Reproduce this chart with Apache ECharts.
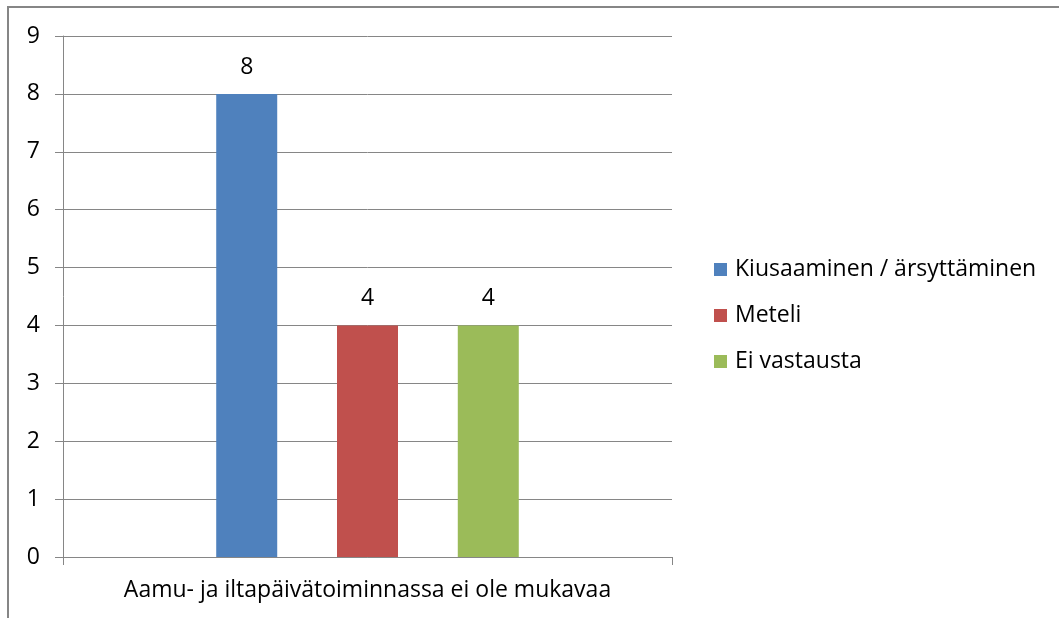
<!DOCTYPE html>
<html>
<head>
<meta charset="utf-8">
<script src="https://cdn.jsdelivr.net/npm/echarts@6/dist/echarts.min.js"></script>
<style>
  html, body { margin: 0; padding: 0; background: #fff; }
  #main { width: 1059px; height: 618px; }
</style>
</head>
<body>
<div id="main"></div>
<script>
const categories = ['Aamu- ja iltapäivätoiminnassa ei ole mukavaa']
const seriesNames = ['Kiusaaminen / ärsyttäminen', 'Meteli', 'Ei vastausta']
const seriesValues = [[8], [4], [4]]
const colors = ['#4F81BD', '#C0504D', '#9BBB59']
const yTicks = [0, 1, 2, 3, 4, 5, 6, 7, 8, 9]

const font = '"Open Sans", sans-serif'
const grey = '#868686'
const fs = 23

const chart = echarts.init(document.getElementById('main'))

const option = {
    animation: false,
    textStyle: { fontFamily: font },
    grid: { left: 63, right: 387, top: 36, bottom: 61 },
    legend: {
        orient: 'vertical',
        left: 709,
        top: 253,
        itemWidth: 13,
        itemHeight: 13,
        itemGap: 23,
        icon: 'rect',
        textStyle: { fontFamily: font, fontSize: fs, color: '#000', padding: [0, 0, 0, 3] },
        data: seriesNames
    },
    xAxis: {
        type: 'category',
        data: categories,
        axisLine: { lineStyle: { color: grey, width: 1 } },
        axisTick: { show: true, length: 8, lineStyle: { color: grey } },
        axisLabel: { fontFamily: font, fontSize: fs, color: '#000', margin: 22 }
    },
    yAxis: {
        type: 'value',
        min: yTicks[0],
        max: yTicks[yTicks.length - 1],
        interval: 1,
        axisLine: { show: true, lineStyle: { color: grey, width: 1 } },
        axisTick: { show: true, length: 8, lineStyle: { color: grey } },
        splitLine: { lineStyle: { color: grey, width: 1 } },
        axisLabel: { fontFamily: font, fontSize: fs, color: '#000', margin: 23 }
    },
    series: seriesNames.map((name, i) => ({
        name: name,
        type: 'bar',
        data: seriesValues[i],
        barWidth: 61,
        barGap: '98%',
        itemStyle: { color: colors[i] },
        label: {
            show: true,
            position: 'top',
            distance: 15,
            fontFamily: font,
            fontSize: fs,
            color: '#000'
        }
    })),
    graphic: [{
        type: 'rect',
        shape: { x: 8, y: 7, width: 1200, height: 800 },
        style: { fill: 'none', stroke: grey, lineWidth: 2 },
        silent: true
    }]
}

chart.setOption(option)
</script>
</body>
</html>
